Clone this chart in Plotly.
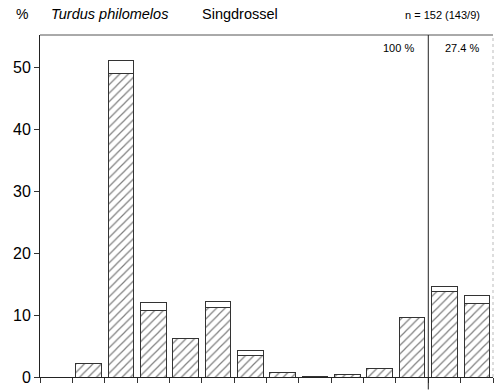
import plotly.graph_objects as go

# --- data (percent) ---
categories = list(range(1, 15))
hatched = [0, 2.2, 49.0, 10.8, 6.2, 11.2, 3.4, 0.7, 0.15, 0.35, 1.35, 9.7, 13.9, 11.9]
open_part = [0, 0, 2.1, 1.2, 0, 1.0, 0.9, 0, 0, 0, 0, 0, 0.7, 1.2]
y_ticks = [0, 10, 20, 30, 40, 50]
title_species = "Turdus philomelos"
title_german = "Singdrossel"
n_text = "n = 152 (143/9)"
group_labels = ["100 %", "27.4 %"]

W, H = 494, 390
L, R, T, B = 40, 492.7, 35, 377.5
PW, PH = R - L, B - T

def px(x):
    return (x - L) / PW

def py(y):
    return (B - y) / PH

xpos = [c - 0.5 for c in categories]
FONT = "Liberation Sans, Arial, Helvetica, sans-serif"

fig = go.Figure()
fig.add_trace(go.Bar(
    x=xpos, y=hatched, width=0.79,
    marker=dict(color="white",
                line=dict(color="#333", width=1),
                pattern=dict(shape="/", fgcolor="black", bgcolor="white",
                             size=6, solidity=0.2)),
    showlegend=False, hoverinfo="skip"))
fig.add_trace(go.Bar(
    x=xpos, y=open_part, width=0.79,
    marker=dict(color="white", line=dict(color="#333", width=1)),
    showlegend=False, hoverinfo="skip"))

fig.update_layout(
    width=W, height=H, barmode="stack",
    margin=dict(l=L, r=W - R, t=T, b=H - B, pad=0, autoexpand=False),
    paper_bgcolor="white", plot_bgcolor="white",
    font=dict(family=FONT, color="black"),
    xaxis=dict(range=[0, 14], tickvals=list(range(0, 15)), showticklabels=False,
               ticks="outside", ticklen=5, tickcolor="#333", showline=True,
               linecolor="#222", linewidth=1, showgrid=False, zeroline=False),
    yaxis=dict(range=[0, 55.3], tickvals=y_ticks, ticks="outside", ticklen=5,
               tickcolor="#333", showline=True, linecolor="#222", linewidth=1,
               showgrid=False, zeroline=False, tickfont=dict(size=16, family=FONT)),
)

shapes = [
    dict(type="line", xref="paper", yref="paper", x0=0, x1=1, y0=1, y1=1,
         line=dict(color="#555", width=1)),
    dict(type="line", xref="paper", yref="paper", x0=1, x1=1, y0=0, y1=1,
         line=dict(color="#bbb", width=1, dash="dot")),
    dict(type="line", xref="x", yref="paper", x0=12, x1=12, y0=py(390), y1=1,
         line=dict(color="#222", width=1)),
]
fig.update_layout(shapes=shapes)

ann = [
    dict(text="%", x=px(14), y=py(14), xanchor="left", size=14, italic=False),
    dict(text=title_species, x=px(49), y=py(14), xanchor="left", size=14.5, italic=True),
    dict(text=title_german, x=px(200), y=py(14), xanchor="left", size=14.5, italic=False),
    dict(text=n_text, x=px(482), y=py(15), xanchor="right", size=11, italic=False),
    dict(text=group_labels[0], x=px(416), y=py(48), xanchor="right", size=11, italic=False),
    dict(text=group_labels[1], x=px(481), y=py(48), xanchor="right", size=11, italic=False),
]
annotations = []
for a in ann:
    t = f"<i>{a['text']}</i>" if a["italic"] else a["text"]
    annotations.append(dict(text=t, x=a["x"], y=a["y"], xref="paper", yref="paper",
                            xanchor=a["xanchor"], yanchor="middle", showarrow=False,
                            font=dict(size=a["size"], family=FONT, color="black")))
fig.update_layout(annotations=annotations)

fig.write_html("out.html", config={"displayModeBar": False},
               post_script="document.body.style.margin='0';document.body.style.overflow='hidden';")
